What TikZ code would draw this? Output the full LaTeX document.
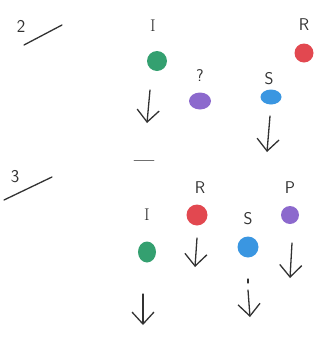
\documentclass[tikz,border=0pt]{standalone}
\usetikzlibrary{arrows.meta,shapes.geometric}
\definecolor{dotgreen}{RGB}{52,160,112}
\definecolor{dotpurple}{RGB}{140,105,205}
\definecolor{dotred}{RGB}{226,72,80}
\definecolor{dotblue}{RGB}{58,150,225}
\definecolor{ink}{RGB}{50,50,50}
\begin{document}
\begin{tikzpicture}[x=1pt,y=-1pt,
  lbl/.style={text=ink,font=\sffamily\fontsize{17}{17}\selectfont,inner sep=0pt},
  ilbl/.style={text=ink,font=\rmfamily\fontsize{17}{17}\selectfont,inner sep=0pt},
  num/.style={text=ink,font=\sffamily\fontsize{18}{18}\selectfont,inner sep=0pt},
  dot/.style={ellipse,inner sep=0pt,minimum size=19pt},
  pen/.style={draw=ink,line width=1.3pt,line cap=round},
  downarrow/.style={pen,-{Straight Barb[length=12pt,width=22pt,line width=1.3pt]}}]
\useasboundingbox (0,0) rectangle (326,338);
% ----- section 2 -----
\node[num] (n2) at (21,26) {2};
\coordinate (s2a) at (24,45);
\coordinate (s2b) at (62,25);
\draw[pen] (s2a) -- (s2b);
\node[ilbl] (lI2) at (153,26) {I};
\node[dot,fill=dotgreen,minimum size=20pt] (gI2) at (157,61) {};
\node[lbl] (lP2) at (200,76) {?};
\node[dot,fill=dotpurple,minimum width=22pt,minimum height=17pt] (gP2) at (200,101) {};
\node[lbl] (lR2) at (304,25) {R};
\node[dot,fill=dotred,minimum size=19pt] (gR2) at (304,53) {};
\node[lbl] (lS2) at (269,79) {S};
\node[dot,fill=dotblue,minimum width=21pt,minimum height=15pt] (gS2) at (271,97) {};
\coordinate (a1s) at (150,90);
\coordinate (a1e) at (147,123);
\draw[downarrow] (a1s) -- (a1e);
\coordinate (a2s) at (270,116);
\coordinate (a2e) at (267,152);
\draw[downarrow] (a2s) -- (a2e);
\coordinate (d1s) at (134,160);
\coordinate (d1e) at (154,160);
\draw[draw=ink!70,line width=0.9pt,line cap=round] (d1s) -- (d1e);
% ----- section 3 -----
\node[num] (n3) at (15,177) {3};
\coordinate (s3a) at (4,200);
\coordinate (s3b) at (52,177);
\draw[pen] (s3a) -- (s3b);
\node[lbl] (lR3) at (200,188) {R};
\node[dot,fill=dotred,minimum size=21pt] (gR3) at (197,215) {};
\node[ilbl] (lI3) at (147,215) {I};
\node[dot,fill=dotgreen,minimum width=18pt,minimum height=21pt] (gI3) at (147,252) {};
\node[lbl] (lS3) at (248,219) {S};
\node[dot,fill=dotblue,minimum size=21pt] (gS3) at (248,247) {};
\node[lbl] (lP3) at (290,188) {P};
\node[dot,fill=dotpurple,minimum size=18pt] (gP3) at (290,215) {};
\coordinate (a3s) at (197,238);
\coordinate (a3e) at (195,267);
\draw[downarrow] (a3s) -- (a3e);
\coordinate (a4s) at (292,243);
\coordinate (a4e) at (290,278);
\draw[downarrow] (a4s) -- (a4e);
\coordinate (a5s) at (143,294);
\coordinate (a5e) at (143,325);
\draw[downarrow] (a5s) -- (a5e);
\coordinate (t1s) at (248,279);
\coordinate (t1e) at (248,283);
\draw[pen] (t1s) -- (t1e);
\coordinate (a6s) at (248,290);
\coordinate (a6e) at (250,317);
\draw[downarrow] (a6s) -- (a6e);
\end{tikzpicture}
\end{document}
